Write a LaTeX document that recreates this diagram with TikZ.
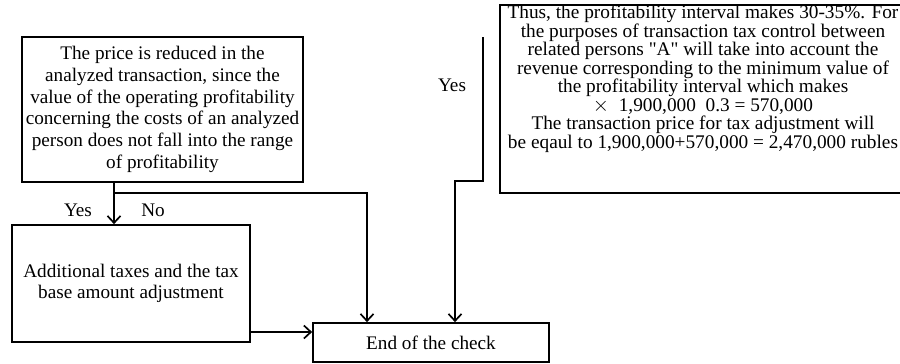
\documentclass[tikz,border=0pt]{standalone}
\usepackage{fontspec}
\setmainfont{Liberation Serif}
\usetikzlibrary{arrows.meta}
% let lines sit closer than their glyph heights
\newcommand\tightlines{\lineskiplimit -100pt\lineskip 0pt\relax}

\begin{document}
\begin{tikzpicture}[x=1pt,y=-1pt,
  box/.style={draw=black, line width=1.7pt, inner sep=0pt, align=center,
    font=\fontsize{19.2}{21.7}\selectfont},
  lbl/.style={inner sep=0pt, font=\fontsize{19.2}{21.7}\selectfont},
  arr/.style={line width=1.7pt, -{Straight Barb[length=7pt,width=13pt,line width=1.7pt]}}]
\useasboundingbox (0,0) rectangle (900,364);

% decision box
\node[box, minimum width=281pt, minimum height=145pt] (check) at (162.5,109.5)
  {The price is reduced in the\\
   analyzed transaction, since the\\
   value of the operating profitability\\
   concerning the costs of an analyzed\\
   person does not fall into the range\\
   of profitability};

% corrective action
\node[box, minimum width=238pt, minimum height=117pt,
  font=\fontsize{19.2}{20.7}\selectfont] (adjust) at (131,283.5)
  {Additional taxes and the tax\\ base amount adjustment};

% final step
\node[box, minimum width=236pt, minimum height=39pt] (finish) at (431,342.5)
  {End of the check};

% calculation box, running past the right margin
\node[box, minimum width=410pt, minimum height=188pt, anchor=north west]
  (calc) at (499,4) {};
\node[lbl, align=center, anchor=north,
  font=\fontsize{19.3}{18.5}\selectfont\tightlines] (calctext) at (703,5)
  {Thus, the profitability interval makes 30-35\%. For\\
   the purposes of transaction tax control between\\
   related persons \textquotedbl A\textquotedbl\ will take into account the\\
   revenue corresponding to the minimum value of\\
   the profitability interval which makes\\
   $\times$\ \ 1,900,000\ \ 0.3 = 570,000\hspace*{24pt}\\
   The transaction price for tax adjustment will\\
   be eqaul to 1,900,000+570,000 = 2,470,000 rubles};

% routing points
\coordinate (split) at (114,193);
\coordinate (drop) at (367,193);
\coordinate (row) at (0,332);
\coordinate (yestop) at (483,37);
\coordinate (yesjog) at (455,181);

% branches out of the decision box
\draw[arr] (split |- check.south) -- (split |- adjust.north);
\draw[arr] (split) -- (drop) -- (drop |- finish.north);
\draw[arr] (adjust.east |- row) -- (finish.west |- row);
\draw[arr] (yestop) |- (yesjog) -- (yesjog |- finish.north);

% branch labels
\node[lbl] (yesA) at (78,210) {Yes};
\node[lbl] (noA) at (153,210) {No};
\node[lbl] (yesB) at (452,85) {Yes};
\end{tikzpicture}
\end{document}
